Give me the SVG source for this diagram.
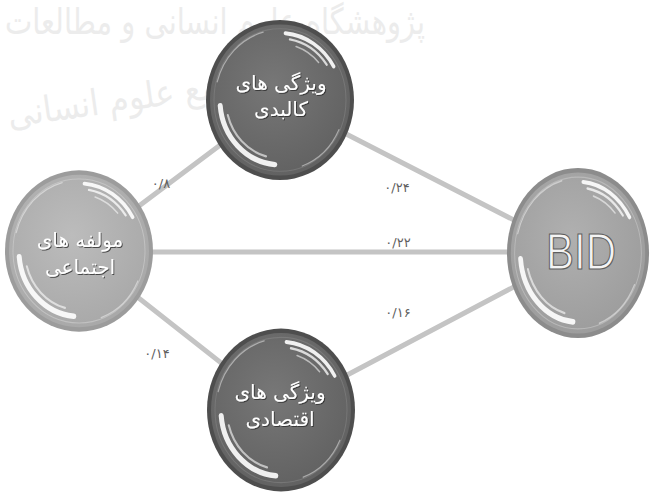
<svg xmlns="http://www.w3.org/2000/svg" width="651" height="494" viewBox="0 0 651 494">
<defs>
<radialGradient id="gDark" cx="45%" cy="40%" r="60%">
<stop offset="0" stop-color="#777777"/><stop offset="1" stop-color="#626262"/>
</radialGradient>
<radialGradient id="gLight" cx="45%" cy="40%" r="60%">
<stop offset="0" stop-color="#bcbcbc"/><stop offset="1" stop-color="#a9a9a9"/>
</radialGradient>
<radialGradient id="gBid" cx="45%" cy="40%" r="60%">
<stop offset="0" stop-color="#b0b0b0"/><stop offset="1" stop-color="#9d9d9d"/>
</radialGradient>
<filter id="sh" x="-20%" y="-20%" width="140%" height="140%">
<feDropShadow dx="1" dy="1" stdDeviation="0.6" flood-color="#2a2a2a" flood-opacity="0.8"/>
</filter>
<g id="gloss">
<path d="M5.4,-61.8 A62,62 0 0 1 53.7,-31" stroke-width="3.5" opacity="0.9"/>
<path d="M9.9,-56.1 A57,57 0 0 1 46.7,-32.7" stroke-width="2.2" opacity="0.75"/>
<path d="M16.1,-49.5 A52,52 0 0 1 38.6,-34.8" stroke-width="1.5" opacity="0.55"/>
<path d="M-62.8,-16.8 A65,65 0 0 1 -16.8,-62.8" stroke-width="1.2" opacity="0.45"/>
<path d="M-5.2,59.8 A60,60 0 0 1 -59.8,5.2" stroke-width="5" opacity="0.9"/>
<path d="M-14,52.2 A54,54 0 0 1 -52.2,14" stroke-width="2" opacity="0.6"/>
<path d="M58.9,27.5 A65,65 0 0 1 22.2,61.1" stroke-width="1.2" opacity="0.45"/>
</g>
</defs>
<style>
.wm{font-family:"DejaVu Sans",sans-serif;font-size:36px;fill:#ececec}
.edge{stroke:#c4c4c4;stroke-width:5;fill:none;stroke-linecap:round}
.gl{fill:none;stroke:#ffffff;stroke-linecap:round}
.fa{font-family:"DejaVu Sans",sans-serif;font-size:20px;fill:#ffffff;text-anchor:middle;filter:url(#sh)}
.num{font-family:"DejaVu Sans",sans-serif;font-size:13px;fill:#606060;text-anchor:middle}
.bid{font-family:"Liberation Sans",Arial,sans-serif;font-size:50px;fill:#f4f4f4;stroke:#5e5e5e;stroke-width:1.2;text-anchor:middle}
</style>
<rect width="651" height="494" fill="#ffffff"/>
<g id="watermark">
<text class="wm" x="215" y="34" text-anchor="middle" textLength="420" lengthAdjust="spacingAndGlyphs">پژوهشگاه علوم انسانی و مطالعات</text>
<text class="wm" x="168" y="105" text-anchor="middle" textLength="320" lengthAdjust="spacingAndGlyphs" transform="rotate(-8 168 105)">پرتال جامع علوم انسانی</text>
</g>
<g id="connectors">
<line class="edge" x1="79" y1="251" x2="280" y2="100"/>
<line class="edge" x1="280" y1="100" x2="578" y2="253"/>
<line class="edge" x1="79" y1="252" x2="578" y2="252"/>
<line class="edge" x1="281" y1="410" x2="578" y2="253"/>
<line class="edge" x1="79" y1="251" x2="281" y2="410"/>
<text class="num" x="161" y="188">۰/۸</text>
<text class="num" x="397" y="192">۰/۲۴</text>
<text class="num" x="398" y="247">۰/۲۲</text>
<text class="num" x="398" y="317">۰/۱۶</text>
<text class="num" x="157" y="358">۰/۱۴</text>
</g>
<g id="node-physical">
<g transform="translate(280,100) scale(1,1.08)">
<circle r="74" fill="#4e4e4e"/>
<circle r="70" fill="url(#gDark)"/>
<circle r="66" fill="none" stroke="#8a8a8a" stroke-width="1" opacity="0.5"/>
<use href="#gloss" class="gl"/>
</g>
<text class="fa" x="281" y="90">ویژگی های</text>
<text class="fa" x="281" y="116">کالبدی</text>
</g>
<g id="node-social">
<g transform="translate(79,251) scale(1,1.09)">
<circle r="74" fill="#9c9c9c"/>
<circle r="70" fill="url(#gLight)"/>
<circle r="66" fill="none" stroke="#d0d0d0" stroke-width="1" opacity="0.6"/>
<use href="#gloss" class="gl"/>
</g>
<text class="fa" x="80" y="247">مولفه های</text>
<text class="fa" x="80" y="274">اجتماعی</text>
</g>
<g id="node-bid">
<g transform="translate(578,253) scale(0.96,1.15)">
<circle r="74" fill="#8c8c8c"/>
<circle r="70" fill="url(#gBid)"/>
<circle r="66" fill="none" stroke="#c8c8c8" stroke-width="1" opacity="0.6"/>
<use href="#gloss" class="gl"/>
</g>
<text class="bid" x="581" y="269" textLength="70" lengthAdjust="spacingAndGlyphs">BID</text>
</g>
<g id="node-economic">
<g transform="translate(281,410) scale(1,1.1)">
<circle r="74" fill="#4e4e4e"/>
<circle r="70" fill="url(#gDark)"/>
<circle r="66" fill="none" stroke="#8a8a8a" stroke-width="1" opacity="0.5"/>
<use href="#gloss" class="gl"/>
</g>
<text class="fa" x="280" y="399">ویژگی های</text>
<text class="fa" x="280" y="426">اقتصادی</text>
</g>
</svg>
